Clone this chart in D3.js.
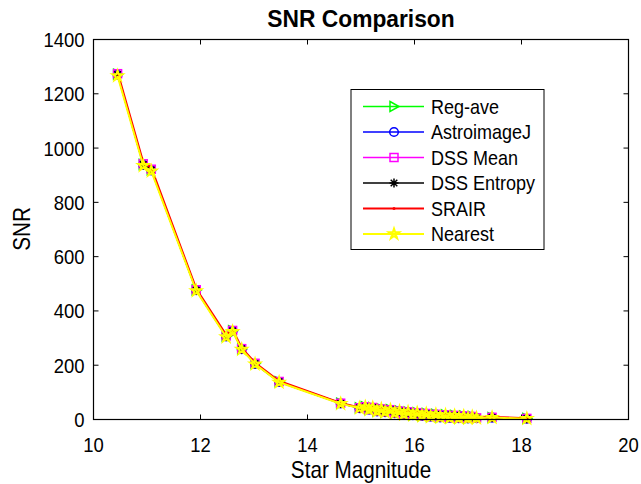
<!DOCTYPE html>
<html><head><meta charset="utf-8">
<script src="https://cdn.jsdelivr.net/npm/d3@7"></script>
<style>body{margin:0;background:#fff}svg{display:block}text{font-family:"Liberation Sans",Arial,sans-serif}</style>
</head><body><svg id="c" width="641" height="484"></svg>
<script>
const magnitude = [10.45,10.93,11.08,11.92,12.48,12.60,12.77,13.02,13.47,14.62,14.97,15.08,15.15,15.22,15.30,15.38,15.45,15.55,15.63,15.72,15.80,15.88,15.97,16.05,16.14,16.22,16.30,16.40,16.48,16.58,16.66,16.75,16.83,16.92,17.00,17.08,17.16,17.45,18.10];
const regAve     = [1272,940,920,477,307,327,260,206,139,60,43,47,37,44,31,39,28,36,24,31,20,28,17,25,14,22,11,19,9,17,7,15,6,13,5,11,6,7,4];
const astroJ     = [1270,938,918,476,306,326,259,205,138,59,42,46,36,43,30,38,27,35,23,30,19,27,16,24,13,21,10,18,8,16,6,14,5,12,4,10,5,7,3];
const dssMean    = [1274,942,922,478,308,328,261,207,140,60,43,47,37,44,31,39,28,36,24,31,20,28,17,25,14,22,11,19,9,17,7,15,6,13,5,11,6,8,4];
const dssEntropy = [1271,939,919,476,306,326,260,205,139,59,42,46,37,43,31,38,28,35,24,30,20,27,17,24,14,21,11,18,9,16,7,14,6,12,5,10,6,7,3];
const srair      = [1280,948,928,482,312,332,264,209,142,61,44,48,38,45,32,40,29,37,25,32,21,29,18,26,15,23,12,20,10,18,8,16,7,14,6,12,7,9,5];
const nearest    = [1266,935,915,474,304,324,258,204,137,58,42,46,36,43,30,38,27,35,23,30,19,27,16,24,13,21,10,18,8,16,6,14,5,12,4,10,5,7,3];
const seriesNames = ["Reg-ave","AstroimageJ","DSS Mean","DSS Entropy","SRAIR","Nearest"];
const seriesColors = ["#00ff00","#0000ff","#ff00ff","#000000","#ff0000","#ffff00"];
const xTicks = [10,12,14,16,18,20];
const yTicks = [0,200,400,600,800,1000,1200,1400];

const allSeries = [regAve,astroJ,dssMean,dssEntropy,srair,nearest];
const svg = d3.select("#c");
const L=93.5,R=628.5,T=39.5,B=419.5;
const x = d3.scaleLinear().domain([10,20]).range([L,R]);
const y = d3.scaleLinear().domain([0,1400]).range([B,T]);

function txt(px,py,s,size,anchor,extra){
  return svg.append("text").attr("transform",`translate(${px},${py}) ${extra||""} scale(0.9,1)`)
    .attr("text-anchor",anchor).attr("font-size",size).text(s);
}

const g = svg.append("g");
xTicks.forEach(t=>{
  g.append("line").attr("x1",x(t)).attr("x2",x(t)).attr("y1",B).attr("y2",B-5).attr("stroke","#000");
  g.append("line").attr("x1",x(t)).attr("x2",x(t)).attr("y1",T).attr("y2",T+5).attr("stroke","#000");
  txt(x(t),B+32,t,20.5,"middle");
});
yTicks.forEach(t=>{
  g.append("line").attr("x1",L).attr("x2",L+5).attr("y1",y(t)).attr("y2",y(t)).attr("stroke","#000");
  g.append("line").attr("x1",R).attr("x2",R-5).attr("y1",y(t)).attr("y2",y(t)).attr("stroke","#000");
  txt(L-9,y(t)+7.5,t,20.5,"end");
});

function marker(sel,i,cx,cy){
  const c=seriesColors[i];
  const m=sel.append("g").attr("transform",`translate(${cx},${cy})`);
  if(i===0){ m.append("path").attr("d","M-4,-5L5,0L-4,5Z").attr("fill","none").attr("stroke",c).attr("stroke-width",1.5); }
  else if(i===1){ m.append("circle").attr("r",4.3).attr("fill","none").attr("stroke",c).attr("stroke-width",1.5); }
  else if(i===2){ m.append("rect").attr("x",-4).attr("y",-4).attr("width",8).attr("height",8).attr("fill","none").attr("stroke",c).attr("stroke-width",1.5); }
  else if(i===3){ m.append("path").attr("d","M0,-4.5V4.5M-4.5,0H4.5M-3.3,-3.3L3.3,3.3M-3.3,3.3L3.3,-3.3").attr("stroke",c).attr("stroke-width",1.5); }
  else if(i===4){ m.append("circle").attr("r",1.5).attr("fill",c); }
  else { m.append("path").attr("d",d3.symbol().type(d3.symbolStar).size(32)()).attr("fill","none").attr("stroke",c).attr("stroke-width",2); }
}

const line = d3.line().x(d=>x(d[0])).y(d=>y(d[1]));
allSeries.forEach((vals,i)=>{
  const pts = magnitude.map((m,k)=>[m,vals[k]]);
  svg.append("path").attr("d",line(pts)).attr("fill","none").attr("stroke",seriesColors[i]).attr("stroke-width",i>=4?2:1.4);
  const mg = svg.append("g");
  pts.forEach(p=>marker(mg,i,x(p[0]),y(p[1])));
});

svg.append("rect").attr("x",L).attr("y",T).attr("width",R-L).attr("height",B-T).attr("fill","none").attr("stroke","#000").attr("stroke-width",1.2);

const lg = svg.append("g");
lg.append("rect").attr("x",351).attr("y",89.5).attr("width",193).attr("height",160).attr("fill","#fff").attr("stroke","#000").attr("stroke-width",1);
seriesNames.forEach((n,i)=>{
  const yy = 106.5 + i*25.5;
  lg.append("line").attr("x1",363).attr("x2",424).attr("y1",yy).attr("y2",yy).attr("stroke",seriesColors[i]).attr("stroke-width",i>=4?2:1.4);
  marker(lg,i,394,yy);
  lg.append("text").attr("transform",`translate(431,${yy+7}) scale(0.9,1)`).attr("font-size",20).text(n);
});

svg.append("text").attr("transform","translate(361,27) scale(0.95,1)").attr("text-anchor","middle").attr("font-size",24).attr("font-weight","bold").text("SNR Comparison");
txt(361,478,"Star Magnitude",23,"middle");
txt(30,229,"SNR",23,"middle","rotate(-90)");
</script></body></html>
